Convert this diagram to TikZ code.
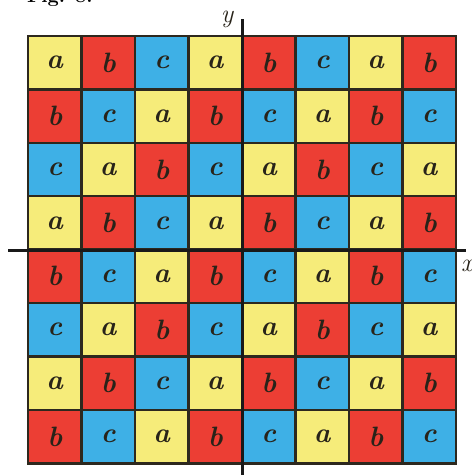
\documentclass[tikz,border=0pt]{standalone}
\definecolor{colA}{RGB}{246,236,122}
\definecolor{colB}{RGB}{236,62,52}
\definecolor{colC}{RGB}{62,176,230}
\definecolor{gridln}{RGB}{45,40,30}
\definecolor{letter}{RGB}{40,35,25}
\begin{document}
\begin{tikzpicture}[x=1pt,y=-1pt,
  cell/.style={draw=gridln, line width=2.5pt, minimum size=53.5pt, inner sep=0pt,
    text=letter, font=\fontsize{28}{30}\selectfont\bfseries\itshape},
  axis/.style={draw=black!90, line width=3pt},
  axlabel/.style={text=letter, font=\fontsize{26}{28}\selectfont\itshape, inner sep=0pt}]
\useasboundingbox[fill=white] (0,0) rectangle (472,475);
\node[anchor=base west, font=\fontsize{20}{22}\selectfont\bfseries, inner sep=0pt] (fig) at (27,2) {Fig. 8.};
\foreach \r in {0,...,7}{
  \foreach \c in {0,...,7}{
    \pgfmathtruncatemacro\k{mod(\r+\c,3)}
    \ifcase\k \def\col{colA}\def\lt{a}\or \def\col{colB}\def\lt{b}\or \def\col{colC}\def\lt{c}\fi
    \node[cell, fill=\col] (c\r\c) at ({28+53.5*(\c+0.5)},{36+53.4*(\r+0.5)}) {\lt};
  }
}
\coordinate (ytop) at (242,19);
\coordinate (ybot) at (242,476);
\coordinate (xl) at (8,250.5);
\coordinate (xr) at (466,250.5);
\draw[axis] (ytop) -- (ybot);
\draw[axis] (xl) -- (xr);
\node[axlabel] (ylab) at (227,19) {y};
\node[axlabel] (xlab) at (467,266) {x};
\end{tikzpicture}
\end{document}
